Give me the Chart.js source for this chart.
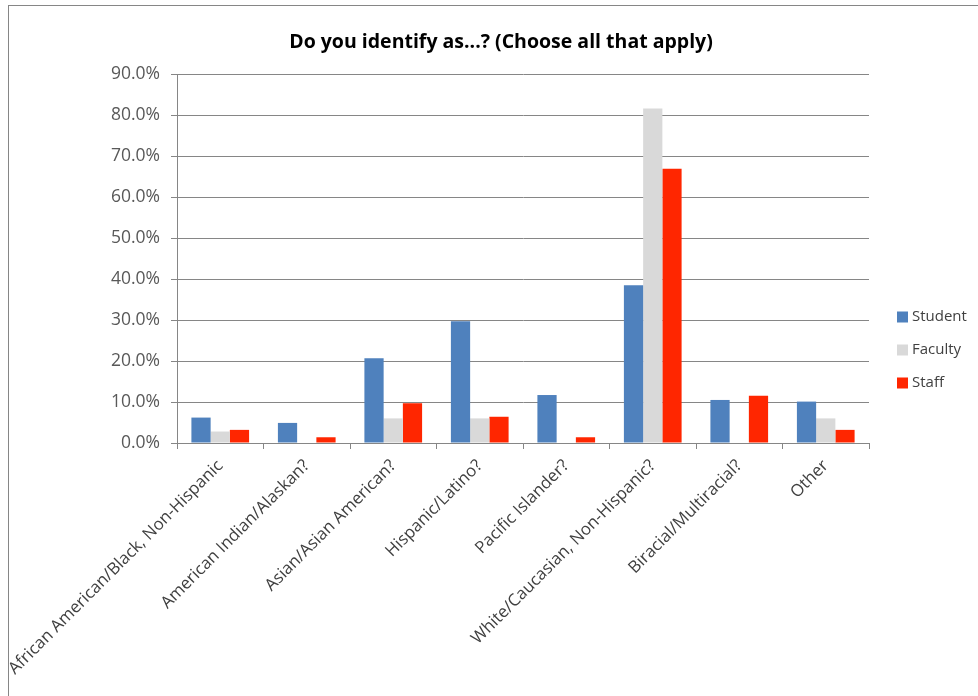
<!DOCTYPE html>
<html>
<head>
<meta charset="utf-8">
<title>Do you identify as...?</title>
<script src="https://cdn.jsdelivr.net/npm/chart.js@4/dist/chart.umd.min.js"></script>
<style>
  html, body { margin: 0; padding: 0; background: #fff; }
  #wrap { width: 978px; height: 696px; }
</style>
</head>
<body>
<div id="wrap"><canvas id="myChart" width="978" height="696"></canvas></div>
<script>
// survey answers, percent of each group
const categories = [
    'African American/Black, Non-Hispanic',
    'American Indian/Alaskan?',
    'Asian/Asian American?',
    'Hispanic/Latino?',
    'Pacific Islander?',
    'White/Caucasian, Non-Hispanic?',
    'Biracial/Multiracial?',
    'Other'
];
const seriesNames = ['Student', 'Faculty', 'Staff'];
const studentPct = [6.2, 4.9, 20.7, 29.7, 11.7, 38.5, 10.5, 10.1];
const facultyPct = [2.8, 0, 6.0, 6.0, 0, 81.6, 0, 6.0];
const staffPct = [3.2, 1.4, 9.7, 6.4, 1.4, 66.9, 11.5, 3.2];
const yTicks = [0, 10, 20, 30, 40, 50, 60, 70, 80, 90];

const seriesColors = ['#4f81bd', '#d9d9d9', '#ff2600'];
const gridGrey = '#868686';
const FONT = 'Open Sans';

// white background + thin outer frame
const framePlugin = {
    id: 'frame',
    beforeDraw(chart) {
        const ctx = chart.ctx;
        ctx.save();
        ctx.fillStyle = '#fff';
        ctx.fillRect(0, 0, chart.width, chart.height);
        ctx.strokeStyle = gridGrey;
        ctx.lineWidth = 1;
        ctx.strokeRect(8.5, 5.5, chart.width + 20, chart.height + 20);
        ctx.restore();
    },
    // centre the title on the whole frame rather than the padded box
    afterLayout(chart) {
        const t = chart.titleBlock;
        if (!t) return;
        const shift = 501 - (t.left + t.right) / 2;
        t.left += shift;
        t.right += shift;
    }
};

// legend stacked on the right, vertically centred on the chart
const sideLegend = {
    id: 'sideLegend',
    afterDraw(chart) {
        const ctx = chart.ctx;
        const x = 897, midY = 350, step = 33, box = 11;
        const sets = chart.data.datasets;
        ctx.save();
        ctx.font = '15px "' + FONT + '"';
        ctx.textBaseline = 'middle';
        ctx.textAlign = 'left';
        sets.forEach((ds, i) => {
            const cy = midY + (i - (sets.length - 1) / 2) * step;
            ctx.fillStyle = ds.backgroundColor;
            ctx.fillRect(x, cy - box / 2, box, box);
            ctx.fillStyle = '#404040';
            ctx.fillText(ds.label, x + box + 4, cy);
        });
        ctx.restore();
    }
};

const ctx = document.getElementById('myChart').getContext('2d');
new Chart(ctx, {
    type: 'bar',
    data: {
        labels: categories,
        datasets: [studentPct, facultyPct, staffPct].map((vals, i) => ({
            label: seriesNames[i],
            data: vals,
            backgroundColor: seriesColors[i],
            borderWidth: 0,
            categoryPercentage: 0.667,
            barPercentage: 1
        }))
    },
    options: {
        responsive: false,
        animation: false,
        devicePixelRatio: 1,
        layout: { padding: { left: 95, right: 109, top: 0, bottom: 0 } },
        plugins: {
            legend: { display: false },
            tooltip: { enabled: false },
            title: {
                display: true,
                text: 'Do you identify as...? (Choose all that apply)',
                color: '#000',
                font: { family: FONT, size: 19.5, weight: 'bold' },
                padding: { top: 31, bottom: 19.6 }
            }
        },
        scales: {
            x: {
                grid: {
                    offset: true,
                    drawOnChartArea: false,
                    tickLength: 6,
                    color: gridGrey
                },
                border: { color: gridGrey },
                ticks: {
                    autoSkip: false,
                    minRotation: 45,
                    maxRotation: 45,
                    padding: 7,
                    color: '#404040',
                    font: { family: FONT, size: 16.8 }
                },
                afterFit(scale) {
                    scale.height = 253;
                    scale.paddingLeft = 0;
                    scale.paddingRight = 0;
                }
            },
            y: {
                min: 0,
                max: 90,
                afterBuildTicks(scale) {
                    scale.ticks = yTicks.map(v => ({ value: v }));
                },
                grid: { color: gridGrey, tickLength: 6 },
                border: { color: gridGrey },
                ticks: {
                    padding: 11,
                    color: '#595959',
                    font: { family: FONT, size: 17.5 },
                    callback: v => v.toFixed(1) + '%'
                },
                afterFit(scale) {
                    scale.width = 82;
                }
            }
        }
    },
    plugins: [framePlugin, sideLegend]
});
</script>
</body>
</html>
